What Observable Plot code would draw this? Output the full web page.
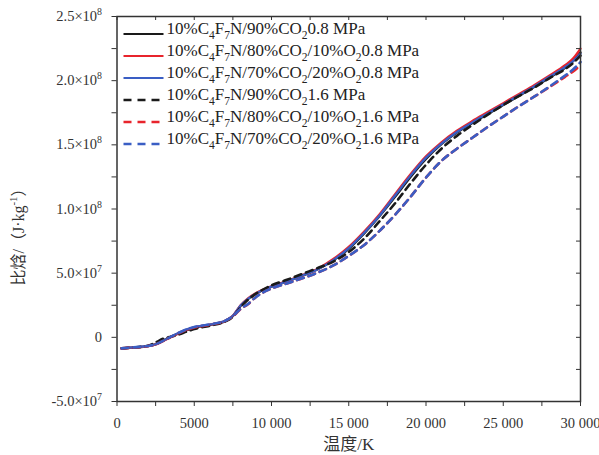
<!DOCTYPE html>
<html><head><meta charset="utf-8">
<script src="https://cdn.jsdelivr.net/npm/d3@7"></script>
<script src="https://cdn.jsdelivr.net/npm/@observablehq/plot@0.6"></script>
<style>body{margin:0;background:#fff}</style>
</head><body><div id="chart"></div>
<script>
// Temperature (K)
const temperature = [300, 1000, 2000, 2500, 3000, 3500, 4000, 4500, 5000, 6000, 7000, 7500, 8000, 8500, 9000, 10000, 11000, 12000, 13000, 14000, 15000, 16000, 17000, 18000, 19000, 20000, 21000, 22000, 23000, 24000, 25000, 26000, 27000, 28000, 29000, 29500, 30000];
// Specific enthalpy, in units of 1e6 J/kg
const h_CO2_08 = [-8.6, -8.0, -6.8, -5.5, -2.5, 0.5, 3.2, 5.6, 7.4, 9.6, 12.6, 16.5, 24.5, 30.0, 34.0, 39.5, 43.5, 48.0, 53.0, 60.0, 69.0, 81.0, 94.5, 109.5, 125.0, 139.0, 150.5, 159.5, 167.0, 174.0, 181.0, 188.0, 195.0, 202.5, 210.0, 215.0, 222.0];
const h_O10_08 = [-8.6, -8.0, -6.8, -5.5, -2.8, 0.3, 3.2, 5.8, 7.6, 9.8, 12.8, 16.8, 25.0, 30.5, 34.5, 39.8, 43.8, 48.5, 53.5, 61.0, 70.5, 82.5, 96.0, 111.5, 127.0, 141.0, 152.0, 161.0, 168.5, 175.5, 182.5, 189.5, 196.5, 204.0, 212.0, 217.0, 225.0];
const h_O20_08 = [-8.6, -7.9, -6.7, -5.4, -2.6, 0.5, 3.6, 6.2, 8.0, 10.0, 12.9, 16.8, 24.8, 30.2, 34.2, 39.5, 43.5, 48.2, 53.0, 60.2, 69.5, 81.5, 95.0, 110.5, 126.0, 140.0, 151.0, 160.0, 167.5, 174.5, 181.5, 188.5, 195.5, 203.0, 210.5, 215.0, 221.0];
const h_CO2_16 = [-8.6, -8.0, -6.5, -4.0, -1.0, 0.5, 2.2, 4.4, 6.5, 9.0, 12.4, 16.0, 23.5, 29.5, 34.0, 40.5, 44.8, 49.5, 54.0, 59.0, 66.5, 77.0, 90.5, 104.5, 120.0, 134.5, 147.0, 157.0, 165.5, 173.5, 181.0, 188.0, 194.5, 202.0, 209.0, 213.5, 219.5];
const h_O10_16 = [-8.6, -8.0, -6.8, -5.5, -2.8, 0.3, 3.2, 5.8, 7.6, 9.8, 12.8, 16.3, 22.0, 26.0, 31.5, 38.0, 42.0, 46.0, 50.5, 56.0, 63.5, 72.0, 83.0, 95.5, 109.5, 124.5, 137.5, 147.0, 155.5, 164.0, 172.0, 180.0, 187.5, 195.0, 203.0, 207.0, 212.0];
const h_O20_16 = [-8.6, -7.9, -6.7, -5.4, -2.6, 0.5, 3.6, 6.2, 8.0, 10.0, 12.9, 16.5, 22.2, 26.2, 31.5, 38.0, 42.0, 46.0, 50.5, 56.0, 63.5, 72.0, 83.0, 95.5, 109.5, 124.5, 137.5, 147.0, 155.5, 164.0, 172.0, 180.0, 187.5, 195.5, 204.0, 208.5, 214.5];

const seriesNames = [
  "10%C_4F_7N/90%CO_20.8 MPa",
  "10%C_4F_7N/80%CO_2/10%O_20.8 MPa",
  "10%C_4F_7N/70%CO_2/20%O_20.8 MPa",
  "10%C_4F_7N/90%CO_21.6 MPa",
  "10%C_4F_7N/80%CO_2/10%O_21.6 MPa",
  "10%C_4F_7N/70%CO_2/20%O_21.6 MPa"
];
const seriesValues = [h_CO2_08, h_O10_08, h_O20_08, h_CO2_16, h_O10_16, h_O20_16];
const seriesColors = ["#1a1a1a", "#e8242c", "#3a5ec4", "#1a1a1a", "#e8242c", "#3a5ec4"];
const seriesDashed = [false, false, false, true, true, true];

const xTicks = d3.range(0, 30001, 2500);
const yTicks = d3.range(-5e7, 2.5e8 + 1, 2.5e7);
const xLabel = "温度/K";
const yLabel = "比焓/（J·kg^{-1}）";

const W = 599, H = 455, mL = 116.5, mR = 19, mT = 16, mB = 54;
const fw = W - mL - mR, fh = H - mT - mB;
const ink = "#333";

const fmtX = d => d % 5000 !== 0 ? "" : (d < 10000 ? String(d) : d3.format(",")(d).replace(/,/g, " "));
const fmtY = d => {
  if (Math.round(d / 5e7) * 5e7 !== d) return "";
  if (d === 0) return "0";
  const e = Math.floor(Math.log10(Math.abs(d)));
  return (d / 10 ** e).toFixed(1) + "×10^{" + e + "}";
};

const marks = [];
seriesValues.forEach((vals, i) => {
  marks.push(Plot.line(vals, {
    x: temperature, y: d => d * 1e6,
    stroke: seriesColors[i],
    strokeWidth: seriesDashed[i] ? 2.6 : 2.3,
    strokeDasharray: seriesDashed[i] ? "7,5" : null,
    curve: "monotone-x"
  }));
});
marks.push(
  Plot.frame({stroke: ink, strokeWidth: 1.5}),
  Plot.axisX(xTicks, {tickSize: 5, tickPadding: 11, tickFormat: fmtX, fontSize: 14.5, label: null, stroke: ink, fill: ink}),
  Plot.axisY(yTicks, {tickSize: 5, tickPadding: 10, tickFormat: fmtY, fontSize: 14.5, label: null, stroke: ink, fill: ink}),
  Plot.ruleX(xTicks, {insetBottom: fh - 4, stroke: ink}),
  Plot.ruleY(yTicks, {insetLeft: fw - 4, stroke: ink}),
  Plot.text([xLabel], {text: d => d, frameAnchor: "bottom", dy: 48, fontSize: 17, fill: ink, textAnchor: "middle"}),
  Plot.text([yLabel], {text: d => d, frameAnchor: "left", dx: -98, dy: 24, rotate: -90, fontSize: 16, fill: ink, textAnchor: "middle"})
);

const plot = Plot.plot({
  width: W, height: H,
  marginLeft: mL, marginRight: mR, marginTop: mT, marginBottom: mB,
  style: {fontFamily: "'Liberation Serif', 'Noto Sans CJK SC', serif", fontSize: "14px", color: ink, background: "#fff"},
  x: {domain: [0, 30000]},
  y: {domain: [-5e7, 2.5e8]},
  marks
});
document.getElementById("chart").appendChild(plot);

function richify(el, fs) {
  const s = el.textContent;
  const parts = [];
  const re = /([\^_])(\{([^}]*)\}|(.))/g;
  let last = 0, m;
  while ((m = re.exec(s))) {
    if (m.index > last) parts.push({t: s.slice(last, m.index), k: 0});
    parts.push({t: m[3] ?? m[4], k: m[1] === "^" ? 1 : -1});
    last = re.lastIndex;
  }
  if (last < s.length) parts.push({t: s.slice(last), k: 0});
  el.textContent = "";
  let cur = 0;
  for (const p of parts) {
    const target = p.k === 1 ? -0.42 * fs : p.k === -1 ? 0.3 * fs : 0;
    const ts = d3.select(el).append("tspan").text(p.t).attr("dy", target - cur);
    if (p.k) ts.attr("font-size", fs * 0.68);
    cur = target;
  }
}

const svg = d3.select(plot);
svg.selectAll("text").each(function() {
  const t = this.textContent;
  if (/[\^_]/.test(t)) {
    const fs = parseFloat(d3.select(this).attr("font-size") || this.parentNode.getAttribute("font-size") || 14);
    richify(this, fs);
  }
});

// Legend (inside the frame, top-left)
const lg = svg.append("g").attr("font-size", 17).attr("fill", "#222").attr("text-anchor", "start");
seriesNames.forEach((name, i) => {
  const y = mT + 18 + i * 22;
  lg.append("line")
    .attr("x1", mL + 7).attr("x2", mL + 47).attr("y1", y).attr("y2", y)
    .attr("stroke", seriesColors[i]).attr("stroke-width", seriesDashed[i] ? 2.4 : 2.1)
    .attr("stroke-dasharray", seriesDashed[i] ? "8,6" : null);
  const t = lg.append("text").attr("x", mL + 50).attr("y", y).attr("dy", "0.35em").text(name);
  richify(t.node(), 17);
});
</script>
</body></html>
